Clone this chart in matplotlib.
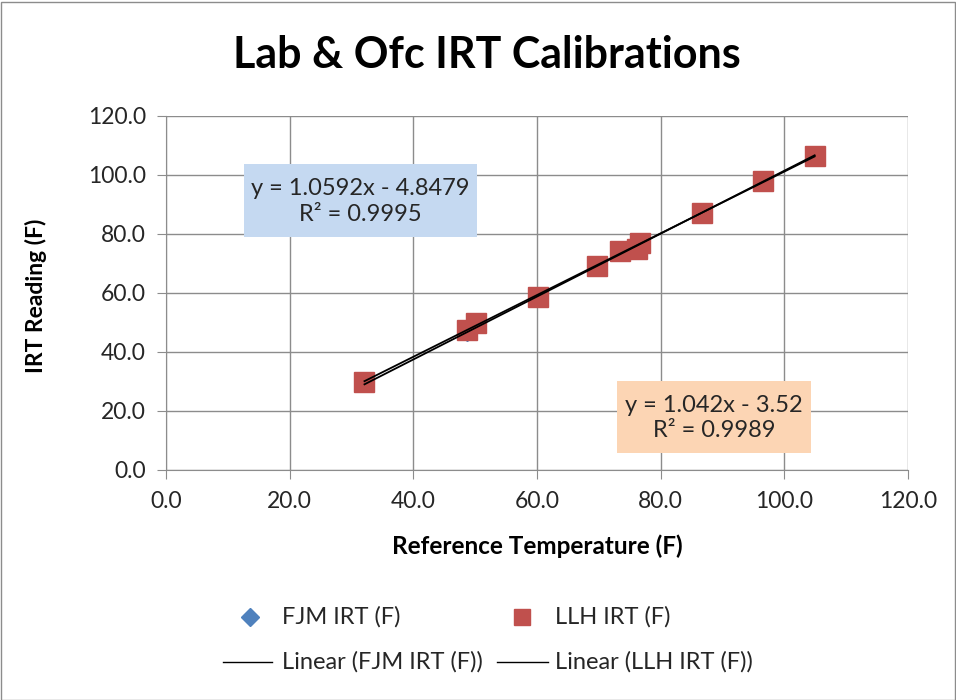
import numpy as np
import matplotlib
matplotlib.use("Agg")
import matplotlib.pyplot as plt
from matplotlib.lines import Line2D
from matplotlib.patches import Rectangle

plt.rcParams['font.family'] = ['Lato', 'DejaVu Sans']

# Data
ref_temp = [32.1, 48.6, 50.2, 60.1, 69.7, 73.4, 76.2, 76.6, 86.7, 96.5, 104.9]
fjm_irt = [29.0, 46.0, 48.6, 59.0, 68.7, 73.5, 75.2, 76.8, 87.8, 97.2, 106.8]
llh_irt = [29.8, 47.4, 49.9, 58.7, 69.0, 74.1, 74.7, 76.9, 87.2, 97.9, 106.3]
fjm_label = "FJM IRT (F)"
llh_label = "LLH IRT (F)"
fjm_trend_label = "Linear (FJM IRT (F))"
llh_trend_label = "Linear (LLH IRT (F))"
fjm_eq = "y = 1.0592x - 4.8479\nR² = 0.9995"
llh_eq = "y = 1.042x - 3.52\nR² = 0.9989"
ticks = [0, 20, 40, 60, 80, 100, 120]

W, H = 956, 700
fig = plt.figure(figsize=(W / 100, H / 100), dpi=100)


def fx(px):
    return px / W


def fy(py):
    return 1 - py / H


fig.patches.append(Rectangle((0.5 / W, 0.5 / H), 1 - 1.5 / W, 1 - 2.5 / H, transform=fig.transFigure,
                             fill=False, edgecolor='#8c8c8c', lw=1))

ax = fig.add_axes([fx(166), fy(469.5), (908 - 166) / W, (469.5 - 116) / H])
ax.set_xlim(0, 120)
ax.set_ylim(0, 120)
ax.set_xticks(ticks)
ax.set_yticks(ticks)
ax.set_xticklabels([f"{t:.1f}" for t in ticks])
ax.set_yticklabels([f"{t:.1f}" for t in ticks])
ax.grid(True, color='#8c8c8c', lw=1)
ax.set_axisbelow(True)
for s in ['top', 'right']:
    ax.spines[s].set_visible(False)
for s in ['left', 'bottom']:
    ax.spines[s].set_color('#8c8c8c')
ax.tick_params(axis='both', direction='out', length=6.5, color='#8c8c8c', labelsize=16.5,
               labelcolor='#262626')
ax.tick_params(axis='y', pad=8)
ax.tick_params(axis='x', pad=9)

x = np.array(ref_temp)
ax.plot(x, fjm_irt, linestyle='none', marker='D', color='#4f81bd', markersize=7, zorder=3)
ax.plot(x, llh_irt, linestyle='none', marker='s', color='#c0504d', markersize=14.5, zorder=4)

xs = np.array([x.min(), x.max()])
p1 = np.polyfit(x, fjm_irt, 1)
p2 = np.polyfit(x, llh_irt, 1)
ax.plot(xs, np.polyval(p1, xs), color='black', lw=1.3, zorder=5)
ax.plot(xs, np.polyval(p2, xs), color='black', lw=1.3, zorder=5)

# Trendline equation boxes
for (l, t, r, b), col, txt in [((244, 164, 477, 237), '#c5d9f1', fjm_eq),
                               ((617, 381, 811, 453), '#fcd5b4', llh_eq)]:
    fig.patches.append(Rectangle((fx(l), fy(b)), (r - l) / W, (b - t) / H, transform=fig.transFigure,
                                 facecolor=col, edgecolor='none', zorder=10))
    fig.text(fx((l + r) / 2), fy((t + b) / 2 + 1), txt, ha='center', va='center', fontsize=17,
             color='#262626', linespacing=1.25, zorder=11)

fig.text(fx(487), fy(55), "Lab & Ofc IRT Calibrations", ha='center', va='center',
         fontsize=31, fontweight='bold', color='black')
fig.text(fx(537), fy(546), "Reference Temperature (F)", ha='center', va='center',
         fontsize=17.5, fontweight='bold', color='black')
fig.text(fx(36), fy(296), "IRT Reading (F)", ha='center', va='center', rotation=90,
         fontsize=16.5, fontweight='bold', color='black')

# Legend (laid out like the Excel legend)
fs = 17
r1, r2 = 617, 662
fig.add_artist(Line2D([fx(250)], [fy(r1)], linestyle='none', marker='D', color='#4f81bd',
                      markersize=9, transform=fig.transFigure))
fig.text(fx(282), fy(r1), fjm_label, ha='left', va='center', fontsize=fs, color='#262626')
fig.add_artist(Line2D([fx(522)], [fy(r1)], linestyle='none', marker='s', color='#c0504d',
                      markersize=12, transform=fig.transFigure))
fig.text(fx(555), fy(r1), llh_label, ha='left', va='center', fontsize=fs, color='#262626')
fig.add_artist(Line2D([fx(223), fx(272)], [fy(r2), fy(r2)], color='black', lw=1,
                      transform=fig.transFigure))
fig.text(fx(282), fy(r2), fjm_trend_label, ha='left', va='center', fontsize=fs, color='#262626')
fig.add_artist(Line2D([fx(497), fx(548)], [fy(r2), fy(r2)], color='black', lw=1,
                      transform=fig.transFigure))
fig.text(fx(555), fy(r2), llh_trend_label, ha='left', va='center', fontsize=fs, color='#262626')

fig.savefig('out.png', dpi=100)
